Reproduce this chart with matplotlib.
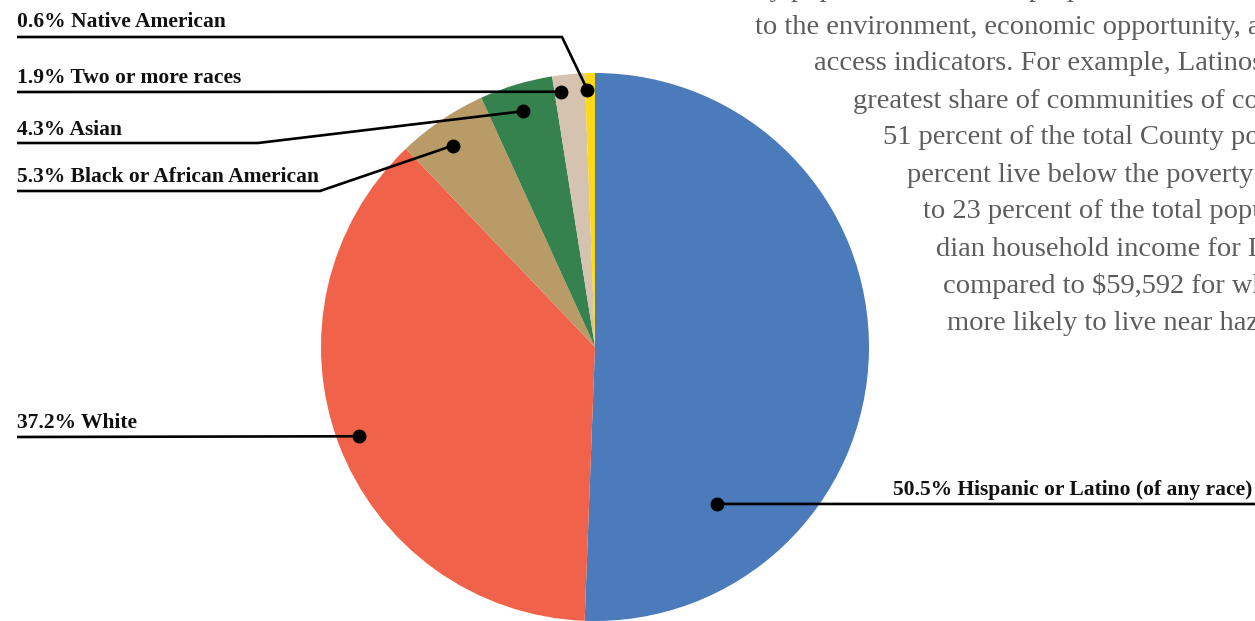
import matplotlib
matplotlib.use("Agg")
import matplotlib.pyplot as plt
import numpy as np

# data (percent of population)
groups = [
    "Hispanic or Latino (of any race)",
    "White",
    "Black or African American",
    "Asian",
    "Two or more races",
    "Native American",
]
shares = [50.5, 37.2, 5.3, 4.3, 1.9, 0.6]
colors = ["#4B7BBB", "#F0624A", "#B99B67", "#36824F", "#D5C3B0", "#FDD816"]

# background paragraph lines (clipped on the right in the source)
para_lines = [
    "County population bear a disproportionate burden with respect",
    "to the environment, economic opportunity, and health",
    "access indicators. For example, Latinos make up the",
    "greatest share of communities of color at about",
    "51 percent of the total County population and 19",
    "percent live below the poverty line compared",
    "to 23 percent of the total population. The me-",
    "dian household income for Latinos is $44,000",
    "compared to $59,592 for whites. Latinos are also",
    "more likely to live near hazardous waste sites.",
]
para_x = [700, 755, 814, 853, 883, 907, 923, 936, 943, 947]

# label layout: text anchor, leader path before the dot, dot place in wedge
label_layout = {
    "Native American": dict(tx=17, ty=27, ha="left", path=[(17, 37), (562, 37)], f=0.2, r=0.94),
    "Two or more races": dict(tx=17, ty=83, ha="left", path=[(17, 92)], f=0.2, r=0.94),
    "Asian": dict(tx=17, ty=135, ha="left", path=[(17, 143), (258, 143)], f=0.48, r=0.9),
    "Black or African American": dict(tx=17, ty=182, ha="left", path=[(17, 191), (320, 191)], f=0.44, r=0.9),
    "White": dict(tx=17, ty=428, ha="left", path=[(17, 437)], f=0.5, r=0.92),
    "Hispanic or Latino (of any race)": dict(tx=1252, ty=495, ha="right", path=[(1255, 504)], f=0.78, r=0.726),
}

W, H = 1255, 621
fig = plt.figure(figsize=(W / 100, H / 100), dpi=100)
ax = fig.add_axes([0, 0, 1, 1])

cx, cy, R = 595, 347, 274
for i, (txt, x0) in enumerate(zip(para_lines, para_x)):
    ax.text(x0, -10 + 37 * i, txt, ha="left", va="center", fontsize=20.5,
            family="Liberation Serif", color="#5c5c5c", zorder=1)

wedges, _ = ax.pie(shares, colors=colors, startangle=-90, counterclock=True,
                   center=(cx, cy), radius=R,
                   wedgeprops=dict(linewidth=0, zorder=2))

ax.set_xlim(0, W)
ax.set_ylim(H, 0)
ax.set_aspect("equal")
ax.axis("off")

for name, share, w in zip(groups, shares, wedges):
    lay = label_layout[name]
    ang = np.deg2rad(w.theta1 + lay["f"] * (w.theta2 - w.theta1))
    dx = cx + lay["r"] * R * np.cos(ang)
    dy = cy + lay["r"] * R * np.sin(ang)
    xs, ys = zip(*(lay["path"] + [(dx, dy)]))
    ax.plot(xs, ys, color="#000000", lw=1.9, solid_capstyle="butt",
            solid_joinstyle="miter", zorder=4)
    ax.plot(dx, dy, "o", color="#000000", ms=9, zorder=5)
    ax.text(lay["tx"], lay["ty"], f"{share}% {name}", ha=lay["ha"], va="baseline",
            fontsize=15.5, fontweight="bold", family="Liberation Serif",
            color="#111111", zorder=6)

fig.savefig("out.png", dpi=100)
